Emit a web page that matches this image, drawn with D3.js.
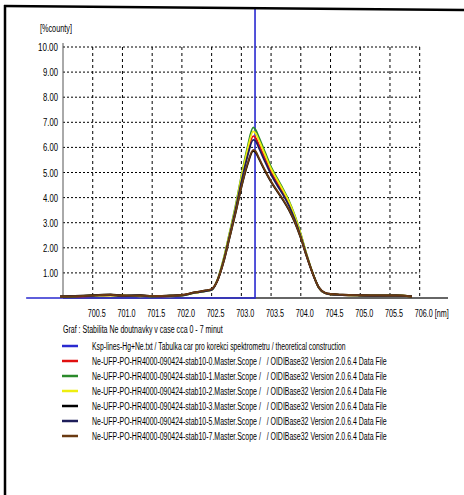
<!DOCTYPE html>
<html><head><meta charset="utf-8">
<script src="https://cdn.jsdelivr.net/npm/d3@7"></script>
<style>body{margin:0;background:#fff}svg{display:block}text{font-family:"Liberation Sans Narrow","Arial Narrow","Liberation Sans",sans-serif;fill:#000;white-space:pre}</style>
</head><body><svg id="c" width="464" height="495"></svg>
<script>
const yTicks = [1,2,3,4,5,6,7,8,9,10];
const yTickLabels = ["1.00","2.00","3.00","4.00","5.00","6.00","7.00","8.00","9.00","10.00"];
const xTicks = [700.5,701.0,701.5,702.0,702.5,703.0,703.5,704.0,704.5,705.0,705.5,706.0];
const xTickLabels = ["700.5","701.0","701.5","702.0","702.5","703.0","703.5","704.0","704.5","705.0","705.5","706.0 [nm]"];
const wavelengths = [699.95,700.2,700.5,700.8,701.0,701.3,701.5,701.8,702.0,702.2,702.4,702.5,702.6,702.7,702.8,702.9,703.0,703.1,703.2,703.24,703.3,703.4,703.5,703.6,703.7,703.8,703.9,704.0,704.1,704.2,704.3,704.4,704.5,704.7,705.0,705.3,705.6,705.87];
const kspX = [699.38,703.23,703.23];
const kspY = [0,0,14];
const stab0 = [0.05,0.06,0.08,0.11,0.09,0.08,0.07,0.08,0.11,0.2,0.28,0.34,0.72,1.5,2.5,3.55,4.7,5.72,6.45,6.38,6.08,5.55,5.02,4.6,4.2,3.78,3.2,2.5,1.7,0.98,0.42,0.2,0.15,0.12,0.1,0.09,0.1,0.06];
const stab1 = [0.05,0.06,0.10,0.12,0.08,0.10,0.06,0.09,0.10,0.20,0.27,0.32,0.74,1.55,2.58,3.65,4.85,5.98,6.80,6.70,6.38,5.8,5.22,4.78,4.35,3.88,3.28,2.55,1.72,1.0,0.42,0.20,0.15,0.12,0.10,0.09,0.10,0.06];
const stab2 = [0.04,0.08,0.09,0.10,0.10,0.07,0.08,0.07,0.10,0.19,0.27,0.32,0.73,1.53,2.55,3.6,4.8,5.88,6.64,6.56,6.26,5.7,5.15,4.72,4.3,3.84,3.25,2.53,1.71,0.99,0.42,0.2,0.14,0.12,0.1,0.1,0.11,0.06];
const stab3 = [0.06,0.08,0.11,0.14,0.1,0.11,0.08,0.1,0.12,0.22,0.3,0.35,0.7,1.42,2.38,3.35,4.4,5.28,5.85,5.8,5.52,5.05,4.62,4.25,3.9,3.5,3.0,2.38,1.64,0.98,0.44,0.22,0.16,0.13,0.11,0.1,0.1,0.06];
const stab5 = [0.05,0.07,0.09,0.12,0.08,0.1,0.07,0.08,0.1,0.2,0.27,0.32,0.71,1.47,2.46,3.5,4.62,5.62,6.3,6.25,5.95,5.42,4.92,4.5,4.12,3.68,3.12,2.45,1.68,0.97,0.42,0.2,0.14,0.12,0.1,0.09,0.1,0.06];
const stab7 = [0.06,0.07,0.1,0.13,0.09,0.1,0.08,0.09,0.12,0.22,0.3,0.36,0.7,1.43,2.4,3.38,4.43,5.33,5.9,5.85,5.56,5.08,4.65,4.28,3.93,3.53,3.03,2.4,1.65,0.98,0.44,0.22,0.16,0.13,0.11,0.1,0.1,0.06];
const seriesNames = [
 "Ksp-lines-Hg+Ne.txt / Tabulka car pro korekci spektrometru / theoretical construction",
 "Ne-UFP-PO-HR4000-090424-stab10-0.Master.Scope /   / OIDIBase32 Version 2.0.6.4 Data File",
 "Ne-UFP-PO-HR4000-090424-stab10-1.Master.Scope /   / OIDIBase32 Version 2.0.6.4 Data File",
 "Ne-UFP-PO-HR4000-090424-stab10-2.Master.Scope /   / OIDIBase32 Version 2.0.6.4 Data File",
 "Ne-UFP-PO-HR4000-090424-stab10-3.Master.Scope /   / OIDIBase32 Version 2.0.6.4 Data File",
 "Ne-UFP-PO-HR4000-090424-stab10-5.Master.Scope /   / OIDIBase32 Version 2.0.6.4 Data File",
 "Ne-UFP-PO-HR4000-090424-stab10-7.Master.Scope /   / OIDIBase32 Version 2.0.6.4 Data File"];
const seriesColors = ["#2a2ad0","#e01010","#2a8a2a","#eeee10","#000000","#1e1e5a","#6a3a12"];
const yLabel = "[%county]";
const title = "Graf : Stabilita Ne doutnavky v case cca 0 - 7 minut";

const svg = d3.select("#c");
svg.append("rect").attr("width",464).attr("height",495).attr("fill","#fff");
const x = d3.scaleLinear().domain([700,706]).range([63,419.7]);
const y = d3.scaleLinear().domain([0,10]).range([298,47]);

// place text at (tx,ty) squeezed horizontally to width w; anchor: "start" | "end"
function fit(sel, tx, ty, w, anchor){
  sel.each(function(){
    const t = d3.select(this).attr("x",0).attr("y",0);
    const nat = this.getComputedTextLength();
    const s = Math.min(1, w / nat);
    const ox = anchor === "end" ? tx - nat*s : tx;
    t.attr("transform",`translate(${ox},${ty}) scale(${s},1)`);
  });
}

svg.append("defs").append("clipPath").attr("id","clip").append("rect").attr("x",0).attr("y",8).attr("width",464).attr("height",300);

// grid
const g = svg.append("g");
g.selectAll(".hg").data(yTicks).join("line").attr("x1",63).attr("x2",x(706)).attr("y1",d=>y(d)).attr("y2",d=>y(d))
 .attr("stroke","#000").attr("stroke-width",1).attr("stroke-dasharray","2,2");
g.selectAll(".vg").data(xTicks).join("line").attr("x1",d=>x(d)).attr("x2",d=>x(d)).attr("y1",y(10)).attr("y2",y(0))
 .attr("stroke","#000").attr("stroke-width",1).attr("stroke-dasharray","3,3");
// axes
svg.append("line").attr("x1",63).attr("x2",63).attr("y1",43).attr("y2",y(0)).attr("stroke","#555").attr("stroke-width",1);
svg.append("line").attr("x1",63).attr("x2",448).attr("y1",y(0)).attr("y2",y(0)).attr("stroke","#666").attr("stroke-width",2);

// tick labels
svg.selectAll(".yl").data(yTicks).join("text").attr("font-size",11.5).text((d,i)=>yTickLabels[i])
  .each(function(d,i){ fit(d3.select(this), 58, y(d)+4, i===9?20:15, "end"); });
svg.selectAll(".xl").data(xTicks).join("text").attr("font-size",11.5).text((d,i)=>xTickLabels[i])
  .each(function(d,i){ fit(d3.select(this), x(d)-5, 317, i===xTicks.length-1?34:18, "start"); });
svg.append("text").attr("font-size",10.5).text(yLabel).call(fit, 40, 32, 32, "start");

// data
const line = d3.line().x(d=>x(d[0])).y(d=>y(d[1])).curve(d3.curveMonotoneX);
const dg = svg.append("g").attr("clip-path","url(#clip)");
const kspPts = kspX.map((v,i)=>[v,kspY[i]]);
dg.append("path").attr("d",d3.line().x(d=>x(d[0])).y(d=>y(d[1]))(kspPts)).attr("fill","none").attr("stroke",seriesColors[0]).attr("stroke-width",1.6);
const ne = [stab0,stab1,stab2,stab3,stab5,stab7];
ne.forEach((s,i)=>{
  const pts = wavelengths.map((w,j)=>[w,s[j]]);
  dg.append("path").attr("d",line(pts)).attr("fill","none").attr("stroke",seriesColors[i+1]).attr("stroke-width",1.8).attr("stroke-linejoin","round");
});

// title + legend
svg.append("text").attr("font-size",11.5).text(title).call(fit, 63, 333, 160, "start");
const lg = svg.selectAll(".lg").data(seriesNames).join("g").attr("transform",(d,i)=>`translate(0,${346+i*15})`);
lg.append("line").attr("x1",62).attr("x2",78).attr("y1",0).attr("y2",0).attr("stroke",(d,i)=>seriesColors[i]).attr("stroke-width",2.5);
lg.append("text").attr("font-size",11.5).text(d=>d).each(function(d,i){ fit(d3.select(this), 92, 4, i===0?254:295, "start"); });

// frame
svg.append("line").attr("x1",5).attr("x2",5).attr("y1",5).attr("y2",495).attr("stroke","#000").attr("stroke-width",2.5);
svg.append("line").attr("x1",4).attr("x2",464).attr("y1",6).attr("y2",10).attr("stroke","#000").attr("stroke-width",2.5);
</script></body></html>
